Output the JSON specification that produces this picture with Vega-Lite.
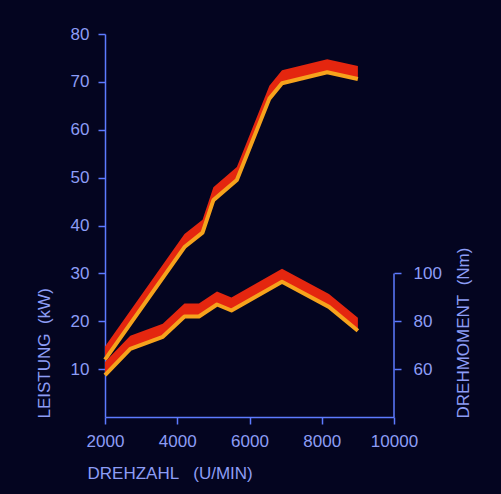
{
  "$schema": "https://vega.github.io/schema/vega-lite/v6.json",
  "autosize": {"type": "none"},
  "width": 289,
  "height": 383,
  "padding": {"left": 105, "top": 34, "right": 107, "bottom": 77},
  "background": "#040520",
  "config": {
    "view": {"stroke": null},
    "font": "Liberation Sans",
    "axis": {
      "grid": false,
      "domainColor": "#5d7bff",
      "domainWidth": 1.5,
      "tickColor": "#5d7bff",
      "tickWidth": 1.5,
      "tickSize": 7,
      "labelColor": "#8d9df6",
      "labelFont": "Liberation Sans",
      "labelFontSize": 17,
      "labelFlush": false,
      "labelOverlap": false,
      "titleColor": "#8d9df6",
      "titleFont": "Liberation Sans",
      "titleFontSize": 17,
      "titleFontWeight": "normal"
    }
  },
  "datasets": {
    "leistung": [
      {"rpm": 2000, "kw": 12},
      {"rpm": 4200, "kw": 35.5},
      {"rpm": 4700, "kw": 38.5},
      {"rpm": 5000, "kw": 45.3},
      {"rpm": 5650, "kw": 49.5},
      {"rpm": 6550, "kw": 66.5},
      {"rpm": 6900, "kw": 69.7},
      {"rpm": 8150, "kw": 72},
      {"rpm": 9000, "kw": 70.6}
    ],
    "drehmoment": [
      {"rpm": 2000, "nm": 57.5},
      {"rpm": 2700, "nm": 68.5},
      {"rpm": 3600, "nm": 73.5},
      {"rpm": 4200, "nm": 82},
      {"rpm": 4600, "nm": 82},
      {"rpm": 5100, "nm": 87},
      {"rpm": 5500, "nm": 84.5},
      {"rpm": 6900, "nm": 96.5},
      {"rpm": 8200, "nm": 86},
      {"rpm": 9000, "nm": 76}
    ]
  },
  "layer": [
    {
      "data": {"name": "leistung"},
      "layer": [
        {
          "mark": {"type": "area", "color": "#e4260f", "y2Offset": -13, "orient": "vertical"},
          "encoding": {
            "x": {
              "field": "rpm", "type": "quantitative",
              "scale": {"domain": [2000, 10000], "nice": false, "zero": false},
              "axis": {
                "values": [2000, 3000, 4000, 5000, 6000, 7000, 8000, 9000, 10000],
                "format": "d",
                "labelExpr": "datum.value % 2000 === 0 ? datum.label : ''",
                "labelPadding": 9,
                "title": "DREHZAHL\u00a0\u00a0\u00a0(U/MIN)",
                "titleX": -18, "titleY": 56, "titleAlign": "left", "titleBaseline": "middle"
              }
            },
            "y": {
              "field": "kw", "type": "quantitative",
              "scale": {"domain": [0, 80], "nice": false},
              "axis": {
                "values": [10, 20, 30, 40, 50, 60, 70, 80],
                "labelPadding": 9,
                "title": "LEISTUNG\u00a0\u00a0(kW)",
                "titleX": -61, "titleY": 384, "titleAngle": 270, "titleAlign": "left", "titleBaseline": "middle"
              }
            },
            "y2": {"field": "kw"}
          }
        },
        {
          "mark": {"type": "line", "color": "#f6a31c", "strokeWidth": 4, "strokeJoin": "round"},
          "encoding": {
            "x": {"field": "rpm", "type": "quantitative"},
            "y": {"field": "kw", "type": "quantitative"}
          }
        }
      ]
    },
    {
      "layer": [
        {
          "data": {"name": "drehmoment"},
          "mark": {"type": "area", "color": "#e4260f", "y2Offset": -13, "orient": "vertical"},
          "encoding": {
            "x": {"field": "rpm", "type": "quantitative"},
            "y": {
              "field": "nm", "type": "quantitative",
              "scale": {"domain": [40, 200], "nice": false, "zero": false},
              "axis": {
                "orient": "right",
                "values": [60, 80, 100],
                "domain": false,
                "labelPadding": 12,
                "title": "DREHMOMENT\u00a0\u00a0(Nm)",
                "titleX": 69, "titleY": 384, "titleAngle": 270, "titleAlign": "left", "titleBaseline": "middle"
              }
            },
            "y2": {"field": "nm"}
          }
        },
        {
          "data": {"name": "drehmoment"},
          "mark": {"type": "line", "color": "#f6a31c", "strokeWidth": 4, "strokeJoin": "round"},
          "encoding": {
            "x": {"field": "rpm", "type": "quantitative"},
            "y": {"field": "nm", "type": "quantitative"}
          }
        },
        {
          "data": {"values": [{}]},
          "mark": {"type": "rule", "color": "#5d7bff", "strokeWidth": 1.5},
          "encoding": {
            "x": {"datum": 10000, "type": "quantitative"},
            "y": {"datum": 40, "type": "quantitative"},
            "y2": {"datum": 100}
          }
        }
      ]
    }
  ],
  "resolve": {"scale": {"y": "independent"}, "axis": {"y": "independent"}}
}
